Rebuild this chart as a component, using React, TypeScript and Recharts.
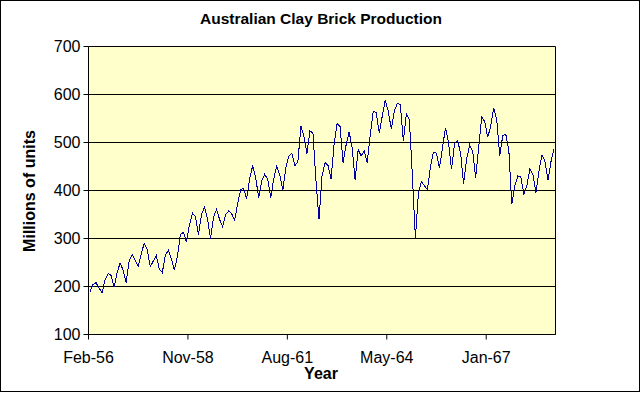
import { LineChart, Line, XAxis, YAxis, CartesianGrid, ReferenceLine } from 'recharts';

// quarterly clay brick production, millions of units (4 values per year, from 1956)
const production = [
    189, 204, 208, 197,
    187, 214, 227, 223,
    199, 229, 249, 234,
    208, 253, 267, 255,
    242, 268, 290, 277,
    241, 253, 265, 236,
    229, 265, 275, 258,
    234, 263, 308, 313,
    293, 328, 353, 345,
    308, 350, 365, 340,
    300, 345, 360, 340,
    325, 350, 357, 352,
    338, 372, 402, 404,
    383, 425, 452, 426,
    385, 420, 434, 423,
    385, 425, 451, 432,
    401, 448, 472, 477,
    452, 460, 534, 513,
    477, 524, 520, 420,
    340, 430, 458, 452,
    424, 495, 540, 533,
    458, 495, 522, 490,
    422, 485, 472, 482,
    458, 515, 565, 562,
    520, 555, 588, 565,
    528, 565, 582, 579,
    503, 560, 548, 430,
    300, 395, 418, 410,
    402, 450, 480, 478,
    447, 490, 531, 500,
    444, 498, 504, 478,
    414, 465, 495, 482,
    426, 490, 553, 544,
    511, 534, 572, 548,
    472, 515, 517, 485,
    371, 410, 430, 428,
    392, 410, 445, 433,
    395, 440, 474, 461,
    422, 460, 487,
];

// x tick labels as printed, at every 33rd point
const tickIndex = [0, 33, 66, 99, 132];
const tickLabels = ['Feb-56', 'Nov-58', 'Aug-61', 'May-64', 'Jan-67'];
const yTicks = [100, 200, 300, 400, 500, 600, 700];

const data = production.map((value, i) => ({ i, value }));
const font = '"Liberation Sans", Arial, sans-serif';
const tickStyle = { fontSize: 16, fontFamily: font, fill: '#000' };

const App = () => {
    const lastEdge = production.length - 0.5;
    return (
        <div style={{ position: 'absolute', left: 0, top: 0, width: 642, height: 394, background: '#fff' }}>
            <style>{'.recharts-line-curve { shape-rendering: crispEdges; }'}</style>
            <LineChart
                width={642}
                height={394}
                data={data}
                margin={{ top: 46.5, right: 86.5, bottom: 29.5, left: 0 }}
            >
                <CartesianGrid vertical={false} stroke="#000" fill="#FFFFCC" />
                <XAxis
                    dataKey="i"
                    type="number"
                    domain={[-0.5, lastEdge]}
                    ticks={tickIndex.map((t) => t - 0.5)}
                    tickFormatter={(v: number) => tickLabels[tickIndex.indexOf(v + 0.5)] ?? ''}
                    interval={0}
                    height={30}
                    tickSize={5}
                    tickMargin={12}
                    stroke="#000"
                    tick={tickStyle}
                />
                <YAxis
                    domain={[100, 700]}
                    ticks={yTicks}
                    interval={0}
                    width={88.5}
                    tickSize={5}
                    tickMargin={3}
                    stroke="#000"
                    tick={tickStyle}
                />
                <ReferenceLine x={lastEdge} stroke="#000" />
                <Line
                    type="linear"
                    dataKey="value"
                    stroke="#0000A0"
                    strokeWidth={1}
                    dot={false}
                    isAnimationActive={false}
                />
            </LineChart>
            <svg width={642} height={394} style={{ position: 'absolute', left: 0, top: 0, pointerEvents: 'none' }}>
                <rect x={0.5} y={0.5} width={639} height={391} fill="none" stroke="#000" />
                <text x={321} y={24} textAnchor="middle" fontFamily={font} fontSize={15.5} fontWeight="bold">
                    Australian Clay Brick Production
                </text>
                <text x={321} y={379} textAnchor="middle" fontFamily={font} fontSize={16} fontWeight="bold">
                    Year
                </text>
                <text
                    transform="translate(35,191) rotate(-90)"
                    textAnchor="middle"
                    fontFamily={font}
                    fontSize={16}
                    fontWeight="bold"
                >
                    Millions of units
                </text>
            </svg>
        </div>
    );
};

export default App;
